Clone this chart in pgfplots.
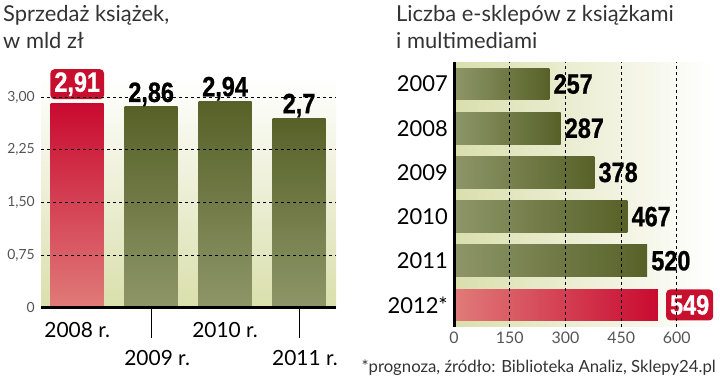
\documentclass[border=0pt]{standalone}
\usepackage{pgfplots}
\pgfplotsset{compat=1.18}
\usepackage{fontspec}
\setmainfont{Lato}
\newfontfamily\numfont[FakeStretch=0.84, FakeBold=0.8]{Liberation Sans}
\definecolor{bg}{HTML}{DADFAC}
\definecolor{oliveD}{HTML}{576127}
\definecolor{oliveL}{HTML}{8E9669}
\definecolor{redD}{HTML}{C90A30}
\definecolor{redL}{HTML}{E07B79}
\definecolor{boxred}{HTML}{C8102E}
\definecolor{txt}{HTML}{333333}
\definecolor{tick}{HTML}{555555}
\pgfplotsset{set layers}
\begin{document}
\begin{tikzpicture}
\node[anchor=base west, inner sep=0pt, font=\fontsize{22}{26}\selectfont, text=txt] at (3bp,356bp) {Sprzedaż książek,};
\node[anchor=base west, inner sep=0pt, font=\fontsize{22}{26}\selectfont, text=txt] at (3bp,329bp) {w mld zł};
\node[anchor=base west, inner sep=0pt, font=\fontsize{22}{26}\selectfont, text=txt] at (396bp,356bp) {Liczba e-sklepów z książkami};
\node[anchor=base west, inner sep=0pt, font=\fontsize{22}{26}\selectfont, text=txt] at (396bp,329bp) {i multimediami};
\node[anchor=base east, inner sep=0pt, font=\fontsize{16.8}{19}\selectfont, text=txt] at (716bp,6bp) {*prognoza, źródło: Biblioteka Analiz, Sklepy24.pl};

\begin{axis}[
  at={(41bp,70bp)}, anchor=south west, scale only axis,
  width=295bp, height=232bp,
  xmin=-0.49, xmax=3.5, ymin=0, ymax=3.3,
  axis on top, clip=false,
  axis x line*=bottom, axis y line*=left,
  x axis line style={line width=3bp, black},
  y axis line style={draw=none},
  axis background/.style={top color=white, bottom color=bg},
  ytick={0,0.75,1.5,2.25,3},
  yticklabels={0,{0,75},{1,50},{2,25},{3,00}},
  ymajorgrids,
  major grid style={black, dash pattern=on 3bp off 3bp, line width=0.8bp},
  ytick style={draw=none},
  yticklabel style={font=\fontsize{14}{16}\selectfont, text=tick, inner sep=0pt, xshift=-6bp},
  xtick={0,2}, xticklabels={2008 r., 2010 r.},
  extra x ticks={1,3}, extra x tick labels={2009 r., 2011 r.},
  major tick length=0pt, tick align=outside,
  xtick style={draw=black, line width=1bp},
  extra x tick style={major tick length=30bp, xtick style={draw=black, line width=1bp}, xticklabel style={yshift=2bp, xshift=6bp}},
  xticklabel style={font=\fontsize{21}{24}\selectfont, text=black, inner sep=0pt, anchor=north, yshift=-14bp},
]
\addplot[ybar, bar width=53bp, bar shift=0pt, draw=none, top color=redD, bottom color=redL] coordinates {(0,2.91)};
\addplot[ybar, bar width=53bp, bar shift=0pt, draw=none, top color=oliveD, bottom color=oliveL] coordinates {(1,2.86)};
\addplot[ybar, bar width=53bp, bar shift=0pt, draw=none, top color=oliveD, bottom color=oliveL] coordinates {(2,2.94)};
\addplot[ybar, bar width=53bp, bar shift=0pt, draw=none, top color=oliveD, bottom color=oliveL] coordinates {(3,2.70)};
\addplot[on layer=axis foreground, draw=none, mark=none, nodes near coords, point meta=explicit symbolic,
  nodes near coords style={anchor=base, yshift=5bp, inner sep=0pt, text=black, font=\numfont\bfseries\fontsize{28}{28}\selectfont}]
  table[meta=lab] {
x y lab
1 2.86 2,86
2 2.94 2,94
3 2.70 2,7
};
\addplot[on layer=axis foreground, draw=none, mark=none, nodes near coords, point meta=explicit symbolic,
  nodes near coords style={anchor=south, yshift=4bp, inner xsep=4bp, inner ysep=0pt, minimum height=30bp, fill=boxred, rounded corners=4bp, text=white, font=\numfont\bfseries\fontsize{28}{28}\selectfont}]
  table[meta=lab] {
x y lab
0 2.91 2,91
};
\end{axis}

\begin{axis}[
  at={(454bp,51bp)}, anchor=south west, scale only axis,
  width=260bp, height=265bp,
  xmin=0, xmax=700, ymin=0, ymax=6,
  axis on top, clip=false,
  axis x line*=bottom, axis y line*=left,
  x axis line style={draw=none},
  y axis line style={line width=3bp, black},
  axis background/.style={left color=bg, right color=white},
  xtick={0,150,300,450,600},
  xmajorgrids,
  major grid style={black, dash pattern=on 3bp off 3bp, line width=0.8bp},
  xtick style={draw=none}, ytick style={draw=none},
  major tick length=0pt,
  xticklabel style={font=\fontsize{16}{18}\selectfont, text=tick, inner sep=0pt, anchor=north, yshift=-5bp},
  /pgf/number format/assume math mode=true,
  ytick={0.5,1.5,2.5,3.5,4.5,5.5}, yticklabels={2012*,2011,2010,2009,2008,2007},
  yticklabel style={font=\fontsize{22}{24}\selectfont, text=black, inner sep=0pt, anchor=east, xshift=-6bp},
]
\addplot[xbar, bar width=31.5bp, bar shift=0pt, draw=none, left color=oliveL, right color=oliveD] coordinates {(257,5.5)};
\addplot[xbar, bar width=31.5bp, bar shift=0pt, draw=none, left color=oliveL, right color=oliveD] coordinates {(287,4.5)};
\addplot[xbar, bar width=31.5bp, bar shift=0pt, draw=none, left color=oliveL, right color=oliveD] coordinates {(378,3.5)};
\addplot[xbar, bar width=31.5bp, bar shift=0pt, draw=none, left color=oliveL, right color=oliveD] coordinates {(467,2.5)};
\addplot[xbar, bar width=31.5bp, bar shift=0pt, draw=none, left color=oliveL, right color=oliveD] coordinates {(520,1.5)};
\addplot[xbar, bar width=31.5bp, bar shift=0pt, draw=none, left color=redL, right color=redD] coordinates {(549,0.5)};
\addplot[on layer=axis foreground, draw=none, mark=none, nodes near coords, point meta=explicit symbolic,
  nodes near coords style={anchor=west, xshift=4bp, inner sep=0pt, text=black, font=\numfont\bfseries\fontsize{28}{28}\selectfont}]
  table[meta=lab] {
x y lab
257 5.5 257
287 4.5 287
378 3.5 378
467 2.5 467
520 1.5 520
};
\addplot[on layer=axis foreground, draw=none, mark=none, nodes near coords, point meta=explicit symbolic,
  nodes near coords style={anchor=west, xshift=8bp, inner xsep=4bp, inner ysep=0pt, minimum height=31bp, fill=boxred, rounded corners=4bp, text=white, font=\numfont\bfseries\fontsize{28}{28}\selectfont}]
  table[meta=lab] {
x y lab
549 0.5 549
};
\end{axis}
\pgfresetboundingbox
\useasboundingbox (0,0) rectangle (720bp,378bp);
\end{tikzpicture}
\end{document}
